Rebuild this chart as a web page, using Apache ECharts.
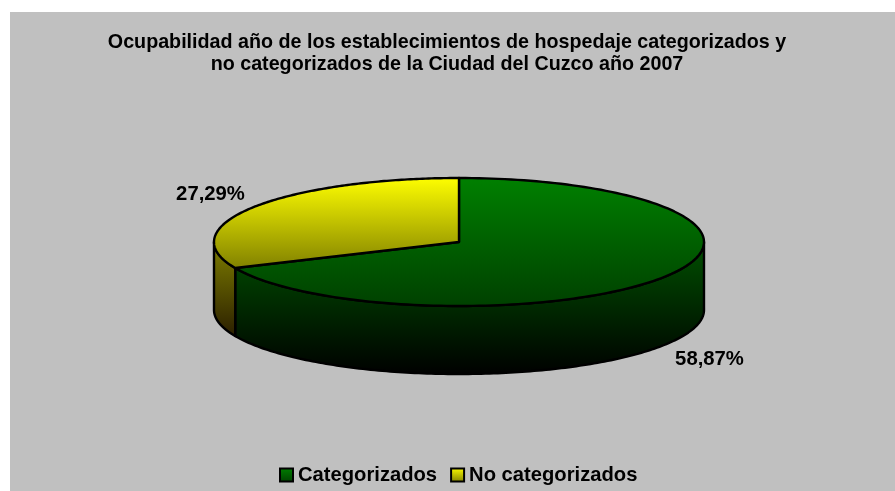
<!DOCTYPE html>
<html>
<head>
<meta charset="utf-8">
<title>Ocupabilidad</title>
<script src="https://cdn.jsdelivr.net/npm/echarts@6/dist/echarts.min.js"></script>
<style>
html, body { margin: 0; padding: 0; background: #fff; }
#main { width: 895px; height: 491px; }
</style>
</head>
<body>
<div id="main"></div>
<script>
var categories = ['Categorizados', 'No categorizados'];
var values = [58.87, 27.29];
var valueLabels = ['58,87%', '27,29%'];
var titleText = 'Ocupabilidad año de los establecimientos de hospedaje categorizados y\nno categorizados de la Ciudad del Cuzco año 2007';

var FONT = '"Liberation Sans", Arial, sans-serif';

// the flattened pie: ECharts has no 3D pie without GL, so it is a custom series
var cx = 459, cy = 242, rx = 245, ry = 64, depth = 68;
var total = values[0] + values[1];

var topFill = [['#008000', '#004000'], ['#ffff00', '#808000']];
var sideFill = [['#005000', '#000000'], ['#808000', '#2a1e00']];

function grad(c) {
    return { type: 'linear', x: 0, y: 0, x2: 0, y2: 1,
        colorStops: [{ offset: 0, color: c[0] }, { offset: 1, color: c[1] }] };
}

// angle is clockwise from 12 o'clock
function rim(a, dy) {
    return [cx + rx * Math.sin(a), cy - ry * Math.cos(a) + (dy || 0)];
}

function arc(a0, a1, dy) {
    var pts = [], n = 160;
    for (var i = 0; i <= n; i++) {
        pts.push(rim(a0 + (a1 - a0) * i / n, dy));
    }
    return pts;
}

function renderSlice(params, api) {
    var idx = params.seriesIndex;
    var before = 0;
    for (var i = 0; i < idx; i++) before += values[i];
    var a0 = before / total * Math.PI * 2;
    var a1 = (before + api.value(0)) / total * Math.PI * 2;
    var children = [];

    // only the part of the wall facing the viewer, 90deg to 270deg
    var s0 = Math.max(a0, Math.PI / 2), s1 = Math.min(a1, Math.PI * 1.5);
    if (s1 > s0) {
        children.push({
            type: 'polygon',
            shape: { points: arc(s0, s1, 0).concat(arc(s1, s0, depth)) },
            style: { fill: grad(sideFill[idx]), stroke: '#000', lineWidth: 2.4, lineJoin: 'round' }
        });
    }
    children.push({
        type: 'polygon',
        shape: { points: [[cx, cy]].concat(arc(a0, a1, 0)) },
        style: { fill: grad(topFill[idx]), stroke: '#000', lineWidth: 2.4, lineJoin: 'round' }
    });

    var mid = (a0 + a1) / 2;
    var front = Math.cos(mid) < 0;
    var p = rim(mid, front ? depth : 0);
    children.push({
        type: 'text',
        z2: 10,
        style: {
            text: valueLabels[idx],
            x: p[0] + (front ? 45 : -43),
            y: p[1] + (front ? 15 : -13),
            fill: '#000',
            font: 'bold 20.3px ' + FONT,
            textAlign: 'center',
            textVerticalAlign: 'middle'
        }
    });
    return { type: 'group', children: children };
}

var chart = echarts.init(document.getElementById('main'), null, { renderer: 'canvas' });

var option = {
    animation: false,
    graphic: [{
        type: 'rect',
        silent: true,
        z: -1,
        shape: { x: 10, y: 12, width: 885, height: 479 },
        style: { fill: '#c0c0c0' }
    }],
    title: {
        text: titleText,
        left: 442,
        top: 27,
        textAlign: 'center',
        textStyle: { fontFamily: FONT, fontWeight: 'bold', fontSize: 19.7, lineHeight: 22, color: '#000' }
    },
    legend: {
        left: 274,
        top: 460,
        itemWidth: 13,
        itemHeight: 13,
        itemGap: 13,
        icon: 'rect',
        textStyle: { fontFamily: FONT, fontWeight: 'bold', fontSize: 20.2, color: '#000' },
        data: [
            { name: categories[0], itemStyle: { color: grad(topFill[0]), borderColor: '#000', borderWidth: 2 } },
            { name: categories[1], itemStyle: { color: grad(topFill[1]), borderColor: '#000', borderWidth: 2 } }
        ]
    },
    series: [
        { name: categories[0], type: 'custom', coordinateSystem: 'none', silent: true, z: 2, data: [values[0]], renderItem: renderSlice },
        { name: categories[1], type: 'custom', coordinateSystem: 'none', silent: true, z: 3, data: [values[1]], renderItem: renderSlice }
    ]
};

chart.setOption(option);
</script>
</body>
</html>
